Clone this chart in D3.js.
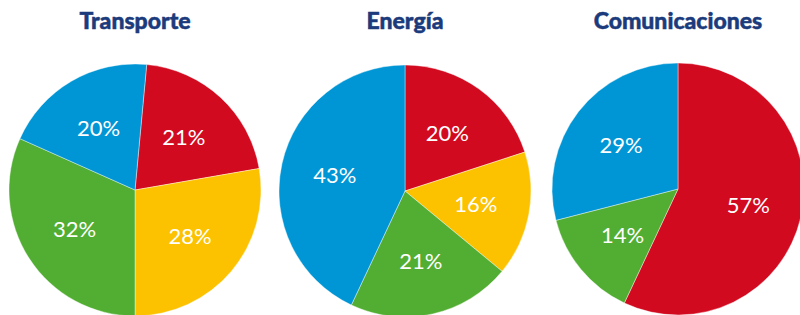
<!DOCTYPE html>
<html>
<head>
<meta charset="utf-8">
<script src="https://cdn.jsdelivr.net/npm/d3@7"></script>
<style>
  body { margin: 0; background: #fff; }
  svg { display: block; }
</style>
</head>
<body>
<svg width="800" height="315"></svg>
<script>
// chart data
const titles = ["Transporte", "Energía", "Comunicaciones"];
const sliceNames = ["rojo", "amarillo", "verde", "azul"];
const transporte = [21, 28, 32, 20];
const energia = [20, 16, 21, 43];
const comunicaciones = [57, 0, 14, 29];

const colors = ["#d20a20", "#fcc200", "#52ae32", "#0096d6"];

const svg = d3.select("svg"),
    width = 800,
    height = 315;

const radius = 126;
const centers = [[135, 190], [405, 191], [678, 189]];
const startAngles = [0.093, 0, 0];

const color = d3.scaleOrdinal()
    .domain(sliceNames)
    .range(colors);

const arc = d3.arc()
    .innerRadius(0)
    .outerRadius(radius);

const labelArc = d3.arc()
    .innerRadius(72)
    .outerRadius(72);

[transporte, energia, comunicaciones].forEach(function(values, i) {
    let rows = sliceNames.map((name, j) => ({ name: name, value: values[j] }));

    let pie = d3.pie()
        .sort(null)
        .value(d => d.value)
        .startAngle(startAngles[i])
        .endAngle(startAngles[i] + 2 * Math.PI);

    let arcs = pie(rows).filter(d => d.data.value > 0);

    let g = svg.append("g")
        .attr("transform", `translate(${centers[i][0]},${centers[i][1]})`);

    g.selectAll("path")
        .data(arcs)
        .enter()
        .append("path")
        .attr("d", arc)
        .attr("fill", d => color(d.data.name))
        .attr("stroke", "#fff")
        .attr("stroke-width", 0.4);

    g.selectAll("text")
        .data(arcs)
        .enter()
        .append("text")
        .attr("transform", d => `translate(${labelArc.centroid(d)})`)
        .attr("text-anchor", "middle")
        .attr("dy", "0.36em")
        .attr("fill", "#fff")
        .style("font-family", "Lato, 'Open Sans', sans-serif")
        .style("font-size", "22px")
        .text(d => d.data.value + "%");

    svg.append("text")
        .attr("x", centers[i][0])
        .attr("y", 29)
        .attr("text-anchor", "middle")
        .attr("fill", "#1b3b7c")
        .attr("stroke", "#1b3b7c")
        .attr("stroke-width", 0.5)
        .style("font-family", "Lato, 'Open Sans', sans-serif")
        .style("font-weight", "900")
        .style("font-size", "23px")
        .text(titles[i]);
});
</script>
</body>
</html>
